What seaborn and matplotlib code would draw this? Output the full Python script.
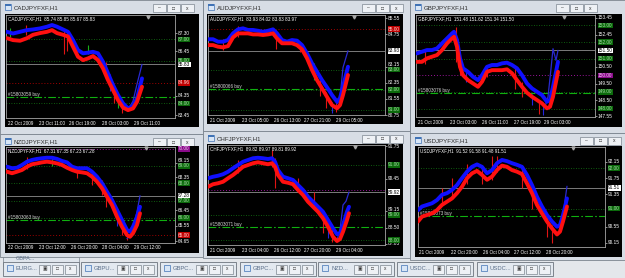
import matplotlib
matplotlib.use("Agg")
import matplotlib.pyplot as plt
import matplotlib.transforms as mtransforms
from matplotlib.patches import Rectangle
import seaborn as sns

# ---------------- data ----------------
CAD_TITLE = "CADJPYFXF,H1"
CAD_HEADER = "CADJPYFXF,H1  85.74 85.85 85.67 85.83"
CAD_BARS = [1, 7, 14, 21, 27, 34, 41, 46, 51, 57, 62, 67, 72, 77, 82, 87, 92, 97, 102, 107, 112, 117, 122, 127, 131, 136]
CAD_BLUE = [87.36, 87.28, 87.36, 87.44, 87.47, 87.52, 87.60, 87.68, 87.60, 87.47, 87.36, 86.97, 86.50, 86.35, 86.38, 86.42, 86.35, 85.95, 85.41, 84.86, 84.39, 84.00, 83.76, 83.87, 84.23, 85.17]
CAD_RED = [87.06, 86.97, 86.94, 87.06, 87.22, 87.30, 87.36, 87.44, 87.30, 87.22, 87.14, 86.66, 86.19, 86.03, 86.11, 86.22, 86.03, 85.64, 85.09, 84.62, 84.15, 83.80, 83.68, 83.76, 84.07, 84.78]
CAD_TAIL_BARS = [122, 127, 131, 136]
CAD_TAIL = [83.70, 84.10, 84.90, 85.83]
CAD_SPIKES = [(4, 87.10, 87.55, "g"), (20, 87.20, 87.70, "r"), (58, 86.30, 87.45, "r"),
              (61, 86.45, 87.30, "r"), (82, 86.30, 86.75, "g"), (100, 85.20, 85.95, "r"),
              (104, 84.60, 85.40, "b"), (108, 84.00, 84.70, "r"), (112, 83.80, 84.40, "g"),
              (116, 83.55, 84.10, "r")]
CAD_DATE_POS = [1, 32, 62, 95, 127]
CAD_DATES = ["22 Oct 2009", "23 Oct 11:00", "26 Oct 19:00", "28 Oct 03:00", "29 Oct 11:00"]
CAD_SCALE = [87.30, 86.45, 84.35, 83.45]
CAD_BOXES = [(87.00, "g"), (86.00, "g"), (85.83, "w"), (84.96, "r"), (84.00, "g")]
CAD_LEVELS = [(87.00, "g"), (86.00, "g"), (84.00, "g"), (84.96, "r"), (85.83, "k")]
CAD_ORDER = (84.30, "#15803059 buy")

AUD_TITLE = "AUDJPYFXF,H1"
AUD_HEADER = "AUDJPYFXF,H1  83.93 84.02 83.83 83.97"
AUD_BARS = [0, 5, 10, 15, 20, 25, 30, 35, 40, 45, 50, 55, 60, 65, 69, 74, 79, 84, 89, 94, 99, 104, 109, 114, 119, 124, 129, 132, 135, 140]
AUD_BLUE = [84.50, 84.50, 84.38, 84.38, 84.46, 84.79, 84.99, 85.04, 84.96, 84.96, 84.92, 84.87, 84.92, 84.99, 84.79, 84.46, 84.38, 84.46, 84.43, 84.21, 83.80, 83.31, 82.89, 82.48, 82.12, 81.74, 81.41, 81.58, 82.15, 83.14]
AUD_RED = [84.21, 84.21, 84.13, 84.10, 84.16, 84.59, 84.79, 84.79, 84.79, 84.74, 84.74, 84.71, 84.74, 84.79, 84.54, 84.30, 84.30, 84.30, 84.21, 84.00, 83.56, 82.98, 82.48, 82.07, 81.65, 81.24, 81.08, 81.24, 81.74, 82.73]
AUD_TAIL_BARS = [129, 132, 135, 140]
AUD_TAIL = [81.30, 81.60, 83.10, 83.93]
AUD_SPIKES = [(15, 83.95, 84.50, "r"), (30, 84.60, 85.15, "r"), (68, 84.00, 84.95, "r"),
              (92, 83.85, 84.35, "r"), (106, 82.50, 83.30, "g"), (112, 81.70, 82.50, "r"),
              (118, 81.10, 81.90, "r"), (124, 80.85, 81.40, "b"), (128, 80.90, 81.50, "r")]
AUD_DATE_POS = [0, 32, 64, 95, 127]
AUD_DATES = ["21 Oct 2009", "23 Oct 05:00", "26 Oct 13:00", "27 Oct 21:00", "29 Oct 05:00"]
AUD_SCALE = [85.55, 84.75, 83.15, 82.35, 81.55, 80.75]
AUD_BOXES = [(85.00, "r"), (83.93, "w"), (83.00, "g"), (82.00, "g"), (81.00, "g")]
AUD_LEVELS = [(85.00, "r"), (83.00, "g"), (82.00, "g"), (81.00, "g"), (83.93, "k")]
AUD_ORDER = (82.03, "#15800066 buy")

GBP_TITLE = "GBPJPYFXF,H1"
GBP_HEADER = "GBPJPYFXF,H1  151.48 151.62 151.34 151.50"
GBP_BARS = [1, 6, 11, 16, 21, 26, 31, 36, 38, 41, 44, 47, 52, 57, 62, 66, 71, 76, 81, 86, 91, 96, 101, 106, 111, 116, 121, 126, 131, 134, 137, 142]
GBP_BLUE = [151.32, 151.42, 151.52, 151.52, 151.62, 151.92, 152.22, 152.52, 152.62, 152.12, 151.02, 150.42, 150.21, 149.91, 149.71, 150.01, 150.51, 150.62, 150.62, 150.72, 150.76, 150.62, 150.42, 150.01, 149.51, 149.21, 149.01, 148.81, 148.41, 148.51, 149.31, 150.81]
GBP_RED = [150.81, 150.81, 151.02, 151.12, 151.22, 151.52, 151.92, 152.22, 152.32, 151.72, 150.51, 150.01, 149.71, 149.51, 149.31, 149.61, 150.21, 150.31, 150.31, 150.31, 150.36, 150.12, 149.71, 149.31, 148.95, 148.71, 148.51, 148.31, 148.01, 148.11, 148.71, 150.21]
GBP_TAIL_BARS = [129, 132, 135, 137, 140, 142]
GBP_TAIL = [148.10, 148.70, 150.40, 151.60, 150.90, 151.50]
GBP_SPIKES = [(9, 150.70, 151.50, "r"), (40, 150.80, 152.90, "r"), (44, 150.00, 151.00, "r"),
              (50, 149.60, 150.40, "b"), (71, 149.90, 150.60, "r"), (99, 149.20, 150.50, "r"),
              (106, 148.70, 149.60, "r"), (116, 148.20, 148.90, "b"), (123, 147.70, 148.40, "r"),
              (127, 147.60, 148.30, "b")]
GBP_DATE_POS = [0, 32, 64, 96, 127]
GBP_DATES = ["21 Oct 2009", "23 Oct 03:00", "26 Oct 11:00", "27 Oct 19:00", "29 Oct 03:00"]
GBP_SCALE = [153.45, 152.45, 150.50, 149.50, 148.50, 147.55]
GBP_BOXES = [(153.00, "g"), (152.00, "g"), (151.50, "w"), (151.00, "g"), (150.00, "p"), (149.00, "g"), (148.00, "g")]
GBP_LEVELS = [(153.00, "g"), (152.00, "g"), (151.00, "g"), (149.00, "g"), (148.00, "g"), (150.00, "p"), (151.50, "k")]
GBP_ORDER = (148.95, "#15803076 buy")

NZD_TITLE = "NZDJPYFXF,H1"
NZD_HEADER = "NZDJPYFXF,H1  67.31 67.35 67.23 67.28"
NZD_BARS = [1, 6, 11, 16, 21, 26, 31, 36, 41, 46, 51, 56, 61, 66, 71, 76, 81, 86, 91, 96, 101, 106, 111, 116, 121, 124, 127, 131, 134]
NZD_BLUE = [68.96, 68.87, 68.90, 69.06, 69.25, 69.35, 69.41, 69.45, 69.48, 69.48, 69.41, 69.29, 69.21, 68.96, 68.87, 68.87, 68.87, 68.67, 68.38, 68.00, 67.51, 67.03, 66.45, 65.87, 65.29, 65.19, 65.48, 66.06, 66.64]
NZD_RED = [68.67, 68.58, 68.67, 68.77, 68.96, 69.10, 69.15, 69.21, 69.25, 69.21, 69.15, 69.06, 68.90, 68.77, 68.67, 68.63, 68.58, 68.38, 68.09, 67.71, 67.22, 66.74, 66.06, 65.48, 65.00, 64.90, 65.10, 65.58, 66.26]
NZD_TAIL_BARS = [121, 124, 127, 131, 134]
NZD_TAIL = [64.80, 64.95, 65.40, 66.35, 67.28]
NZD_SPIKES = [(21, 68.80, 69.50, "r"), (46, 69.00, 69.60, "g"), (71, 68.30, 68.90, "r"),
              (86, 67.90, 68.60, "r"), (96, 67.30, 68.20, "r"), (100, 66.60, 67.60, "r"),
              (111, 65.50, 66.40, "b"), (116, 65.00, 65.90, "r"), (121, 64.70, 65.30, "r")]
NZD_DATE_POS = [1, 32, 64, 95, 127]
NZD_DATES = ["22 Oct 2009", "23 Oct 12:00", "26 Oct 20:00", "28 Oct 04:00", "29 Oct 12:00"]
NZD_SCALE = [69.15, 68.35, 66.45, 65.55, 64.65]
NZD_BOXES = [(70.00, "p"), (69.00, "g"), (68.00, "g"), (67.28, "w"), (67.00, "g"), (66.00, "g"), (65.00, "r")]
NZD_LEVELS = [(70.00, "p"), (69.00, "g"), (68.00, "g"), (67.00, "g"), (66.00, "g"), (65.00, "r"), (67.28, "k")]
NZD_ORDER = (65.90, "#15803063 buy")

CHF_TITLE = "CHFJPYFXF,H1"
CHF_HEADER = "CHFJPYFXF,H1  89.82 89.97 89.81 89.92"
CHF_BARS = [0, 5, 10, 15, 20, 25, 30, 35, 40, 45, 50, 55, 60, 64, 67, 70, 75, 80, 85, 90, 95, 100, 105, 110, 115, 120, 125, 129, 132, 135, 139, 141]
CHF_BLUE = [90.47, 90.53, 90.57, 90.63, 90.73, 90.87, 91.00, 91.13, 91.20, 91.27, 91.29, 91.27, 91.24, 91.27, 91.13, 90.80, 90.53, 90.47, 90.40, 90.20, 90.00, 89.73, 89.53, 89.33, 89.13, 88.80, 88.47, 88.23, 88.27, 88.60, 89.13, 89.33]
CHF_RED = [90.13, 90.23, 90.27, 90.33, 90.47, 90.60, 90.76, 90.93, 91.00, 91.07, 91.11, 91.07, 91.03, 91.07, 90.93, 90.60, 90.33, 90.29, 90.23, 90.00, 89.80, 89.53, 89.33, 89.13, 88.87, 88.53, 88.13, 87.96, 88.04, 88.33, 88.80, 89.07]
CHF_TAIL_BARS = [129, 132, 135, 138, 141]
CHF_TAIL = [88.00, 88.40, 89.40, 89.55, 89.92]
CHF_SPIKES = [(30, 90.70, 91.20, "r"), (64, 90.90, 91.60, "r"), (67, 90.10, 91.30, "r"),
              (90, 89.90, 90.50, "r"), (106, 89.30, 89.90, "r"), (115, 88.30, 89.10, "r"),
              (120, 88.10, 88.80, "b"), (124, 87.90, 88.50, "r")]
CHF_DATE_POS = [0, 32, 64, 95, 127]
CHF_DATES = ["21 Oct 2009", "23 Oct 04:00", "26 Oct 12:00", "27 Oct 20:00", "29 Oct 04:00"]
CHF_SCALE = [91.75, 90.45, 89.15, 88.50, 87.85]
CHF_BOXES = [(91.00, "g"), (89.92, "w"), (89.00, "g"), (88.00, "g")]
CHF_LEVELS = [(91.00, "g"), (89.00, "g"), (88.00, "g"), (90.00, "p"), (89.92, "k")]
CHF_ORDER = (88.52, "#15803071 buy")

USD_TITLE = "USDJPYFXF,H1"
USD_HEADER = "USDJPYFXF,H1  91.52 91.58 91.48 91.51"
USD_BARS = [0, 4, 9, 14, 19, 24, 29, 34, 39, 44, 49, 54, 59, 64, 69, 74, 79, 84, 89, 94, 99, 104, 109, 114, 119, 124, 129, 134, 139, 142, 145, 149]
USD_BLUE = [90.96, 91.05, 91.09, 91.13, 91.21, 91.34, 91.38, 91.46, 91.58, 91.75, 91.91, 92.03, 92.09, 92.03, 91.87, 91.95, 92.12, 92.20, 92.17, 92.12, 92.08, 92.03, 91.83, 91.58, 91.29, 91.05, 90.84, 90.68, 90.55, 90.59, 90.84, 91.25]
USD_RED = [90.68, 90.80, 90.84, 90.88, 90.96, 91.09, 91.17, 91.25, 91.38, 91.54, 91.75, 91.87, 91.93, 91.83, 91.71, 91.79, 91.95, 92.06, 92.03, 91.95, 91.91, 91.85, 91.62, 91.38, 91.09, 90.88, 90.68, 90.51, 90.36, 90.43, 90.68, 91.05]
USD_TAIL_BARS = [142, 145, 147, 149]
USD_TAIL = [90.45, 90.75, 91.20, 91.55]
USD_SPIKES = [(0, 90.60, 91.00, "r"), (24, 91.10, 91.50, "r"), (34, 91.30, 91.75, "r"),
              (49, 91.60, 92.10, "r"), (64, 91.60, 92.05, "r"), (74, 91.70, 92.30, "r"),
              (79, 91.90, 92.30, "r"), (104, 91.50, 92.05, "r"), (114, 91.00, 91.60, "r"),
              (129, 90.30, 90.80, "r"), (134, 90.15, 90.60, "r")]
USD_DATE_POS = [0, 32, 64, 95, 127]
USD_DATES = ["21 Oct 2009", "22 Oct 20:00", "26 Oct 04:00", "27 Oct 12:00", "28 Oct 20:00"]
USD_SCALE = [92.15, 91.75, 91.35, 90.55, 90.15]
USD_BOXES = [(92.00, "g"), (91.51, "w"), (91.00, "g")]
USD_LEVELS = [(92.00, "g"), (91.00, "g"), (91.51, "k")]
USD_ORDER = (90.82, "#15803073 buy")

TASK_LABELS = ["EURG...", "GBPU...", "GBPC...", "GBPC...", "NZD...", "USDC...", "USDC..."]
HIDDEN_LABEL = "GBPA..."

# ---------------- layout / style ----------------
W, H = 625, 278
BG = "#e4e7eb"
FRAME = "#d7dde5"
FRAME_EDGE = "#7b848e"
BOX_STYLE = {"g": ("#0b6a0b", "#a8d8a8"), "w": ("#ffffff", "#000000"),
             "r": ("#c00000", "#ffd8d8"), "p": ("#8a0a8a", "#f0c8f0")}
LEVEL_STYLE = {"g": ("#137a13", (0, (1, 2)), 0.6), "r": ("#a00000", (0, (1, 2)), 0.7),
               "p": ("#9a159a", (0, (1, 2)), 0.7), "k": ("#8f8f8f", "-", 0.6)}
SPIKE_COL = {"r": "#e01414", "b": "#2424e0", "g": "#18b018"}
LABEL_PX = 5.0   # height of one price label in pixels

sns.set_style("dark")
plt.rcParams["font.family"] = ["Liberation Sans", "DejaVu Sans"]

fig = plt.figure(figsize=(W / 100, H / 100), dpi=100)
fig.patch.set_facecolor(BG)


def fx(x):
    return x / W


def fy(y):
    return 1 - y / H


def prect(x0, y0, x1, y1, fc, ec="none", lw=0.0, z=-2):
    fig.add_artist(Rectangle((fx(x0), fy(y1)), (x1 - x0) / W, (y1 - y0) / H,
                             transform=fig.transFigure, facecolor=fc,
                             edgecolor=ec, linewidth=lw, zorder=z))


def ptext(x, y, s, **kw):
    fig.text(fx(x), fy(y), s, **kw)


def window(win, title, btn_x, blk):
    x0, y0, x1, y1 = win
    prect(x0, y0, x1, y1, FRAME, FRAME_EDGE, 0.6, z=-4)
    prect(x0 + 5, y0 + 4, x0 + 11, y0 + 10, "#d8e6f6", "#3f72b5", 0.5, z=-3)
    prect(x0 + 5, y0 + 4, x0 + 11, y0 + 5.5, "#3f72b5", z=-3)
    ptext(x0 + 14, y0 + 8, title, fontsize=4.4, color="#2e2e2e", va="center", ha="left")
    for i, g in enumerate(["\u2013", "\u25a1", "x"]):
        bx = btn_x + i * 14
        prect(bx, y0 + 4, bx + 12.5, y0 + 12, "#eef1f5", "#7d8690", 0.5, z=-3)
        ptext(bx + 6.2, y0 + 8, g, fontsize=3.6, color="#333333", ha="center", va="center")
    prect(*blk, "black", z=-2)


def chart(plot, ylim, bars, blue, red, tail_bars, tail, spikes, header, date_pos, dates,
          scale, boxes, levels, order):
    px0, py0, px1, py1 = plot
    width = px1 - px0
    px_per_unit = (py1 - py0) / (ylim[1] - ylim[0])
    ax = fig.add_axes([fx(px0), fy(py1), width / W, (py1 - py0) / H])
    ax.set_facecolor("black")
    for s in ax.spines.values():
        s.set_color("#a5a5a5")
        s.set_linewidth(0.6)
    ax.set_xlim(0, width)
    ax.set_ylim(*ylim)
    yblend = mtransforms.blended_transform_factory(ax.transAxes, ax.transData)
    xblend = mtransforms.blended_transform_factory(ax.transData, ax.transAxes)
    for price, st in levels:
        c, ls, lw = LEVEL_STYLE[st]
        ax.axhline(price, color=c, linestyle=ls, linewidth=lw, zorder=1)
    ax.axhline(order[0], color="#10b010", linestyle=(0, (7, 2, 1.5, 2)), linewidth=0.8, zorder=1)
    ax.text(0.012, order[0], order[1], transform=yblend, ha="left", va="bottom",
            fontsize=3.3, color="#d8d8d8")
    ax.vlines([s[0] for s in spikes], [s[1] for s in spikes], [s[2] for s in spikes],
              colors=[SPIKE_COL[s[3]] for s in spikes], linewidth=0.8, zorder=2)
    sns.lineplot(x=tail_bars, y=tail, ax=ax, color="#2a2ad0", linewidth=0.9, legend=False,
                 errorbar=None, sort=False, zorder=2)
    sns.lineplot(x=bars, y=blue, ax=ax, color="#1010ff", linewidth=2.8, legend=False,
                 errorbar=None, sort=False, zorder=3)
    sns.lineplot(x=bars, y=red, ax=ax, color="#ff1010", linewidth=2.8, legend=False,
                 errorbar=None, sort=False, zorder=4)
    ax.set_xlabel("")
    ax.set_ylabel("")
    ax.text(0.012, 0.985, header, transform=ax.transAxes, ha="left", va="top",
            fontsize=3.3, color="white")
    ax.plot([bars[-1] + 6], [ylim[1] - (ylim[1] - ylim[0]) * 0.015], marker="v",
            color="#a8a8a8", markersize=2.2, zorder=5, clip_on=False)
    ax.set_xticks(date_pos)
    ax.set_xticklabels([])
    ax.tick_params(axis="x", length=2, width=0.5, color="#c8c8c8", direction="out")
    for p, lab in zip(date_pos, dates):
        ax.text(p + 1.5, -0.025, lab, transform=xblend, ha="left", va="top",
                fontsize=3.3, color="white")
    # price scale: tick marks plus labels; a label that would sit on a price box
    # is lifted just clear of it
    ax.yaxis.tick_right()
    ax.set_yticks(scale)
    ax.tick_params(axis="y", length=1.5, width=0.5, color="#c8c8c8",
                   labelright=False, labelleft=False, left=False)
    xlab = 1 + 3.0 / width
    for v in scale:
        lift = 0.0
        for bp, _ in boxes:
            gap = (v - bp) * px_per_unit
            if 0 <= gap < LABEL_PX:
                lift = max(lift, LABEL_PX - gap)
        tr = yblend + mtransforms.ScaledTranslation(0, lift / 100, fig.dpi_scale_trans)
        ax.text(xlab, v, f"{v:.2f}", transform=tr, ha="left", va="center",
                fontsize=3.4, color="white", clip_on=False)
    for price, st in boxes:
        fc, tc = BOX_STYLE[st]
        ax.text(xlab, price, f"{price:.2f}", transform=yblend, ha="left", va="center",
                fontsize=3.4, color=tc, zorder=6, clip_on=False,
                bbox=dict(boxstyle="square,pad=0.06", fc=fc, ec="none"))
    ax.grid(False)
    return ax


# minimised window peeking out behind, bottom-left
prect(3, 254, 79, 266, "#dfe5ec", FRAME_EDGE, 0.5, z=-5)
ptext(16, 258.5, HIDDEN_LABEL, fontsize=4.0, color="#5b6f8a", va="center")

WINDOWS = [
    ((0, 0, 203, 134), CAD_TITLE, 153, (5, 14, 199, 127)),
    ((203, 0, 410, 131), AUD_TITLE, 362, (207, 14, 403, 124)),
    ((410, 0, 625, 133), GBP_TITLE, 556, (415, 14, 622, 127)),
    ((0, 134, 203, 257), NZD_TITLE, 153, (5, 146, 199, 253)),
    ((203, 131, 410, 258), CHF_TITLE, 362, (207, 144, 403, 256)),
    ((410, 133, 625, 260), USD_TITLE, 580, (415, 146, 622, 257)),
]
for win, title, bx, blk in WINDOWS:
    window(win, title, bx, blk)

chart((6, 15, 175, 118), (83.31, 88.15), CAD_BARS, CAD_BLUE, CAD_RED, CAD_TAIL_BARS, CAD_TAIL,
      CAD_SPIKES, CAD_HEADER, CAD_DATE_POS, CAD_DATES, CAD_SCALE, CAD_BOXES, CAD_LEVELS, CAD_ORDER)
chart((208, 15, 385, 115), (80.75, 85.70), AUD_BARS, AUD_BLUE, AUD_RED, AUD_TAIL_BARS, AUD_TAIL,
      AUD_SPIKES, AUD_HEADER, AUD_DATE_POS, AUD_DATES, AUD_SCALE, AUD_BOXES, AUD_LEVELS, AUD_ORDER)
chart((416, 15, 595, 117), (147.49, 153.63), GBP_BARS, GBP_BLUE, GBP_RED, GBP_TAIL_BARS, GBP_TAIL,
      GBP_SPIKES, GBP_HEADER, GBP_DATE_POS, GBP_DATES, GBP_SCALE, GBP_BOXES, GBP_LEVELS, GBP_ORDER)
chart((6, 147, 175, 243), (64.54, 70.10), NZD_BARS, NZD_BLUE, NZD_RED, NZD_TAIL_BARS, NZD_TAIL,
      NZD_SPIKES, NZD_HEADER, NZD_DATE_POS, NZD_DATES, NZD_SCALE, NZD_BOXES, NZD_LEVELS, NZD_ORDER)
chart((208, 145, 385, 245), (87.80, 91.80), CHF_BARS, CHF_BLUE, CHF_RED, CHF_TAIL_BARS, CHF_TAIL,
      CHF_SPIKES, CHF_HEADER, CHF_DATE_POS, CHF_DATES, CHF_SCALE, CHF_BOXES, CHF_LEVELS, CHF_ORDER)
chart((418, 147, 605, 247), (90.05, 92.52), USD_BARS, USD_BLUE, USD_RED, USD_TAIL_BARS, USD_TAIL,
      USD_SPIKES, USD_HEADER, USD_DATE_POS, USD_DATES, USD_SCALE, USD_BOXES, USD_LEVELS, USD_ORDER)

# task bar of minimised chart windows
TASK_X = [3, 81, 160, 240, 318, 397, 477]
for tx, lab in zip(TASK_X, TASK_LABELS):
    prect(tx, 262, tx + 76, 276, "#e3e9f0", "#6c747d", 0.6, z=-2)
    prect(tx + 4, 265, tx + 10, 271, "#d8e6f6", "#3f72b5", 0.5, z=-1)
    ptext(tx + 13, 269, lab, fontsize=4.2, color="#5b6f8a", va="center", ha="left")
    for i, g in enumerate(["\u25a3", "\u25a1", "x"]):
        bx = tx + 36 + i * 13
        prect(bx, 264.5, bx + 11, 273.5, "#eef1f5", "#7d8690", 0.5, z=-1)
        ptext(bx + 5.5, 269, g, fontsize=3.4, color="#333333", ha="center", va="center")

fig.savefig("out.png", dpi=100, facecolor=fig.get_facecolor())
